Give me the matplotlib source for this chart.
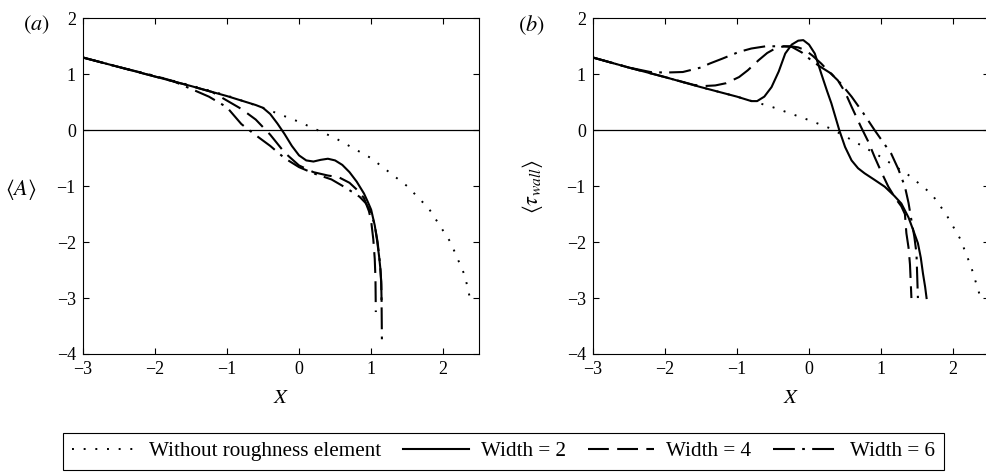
import matplotlib
matplotlib.use("Agg")
import matplotlib.pyplot as plt

plt.rcParams['font.family'] = ['Liberation Serif', 'DejaVu Serif']
plt.rcParams['mathtext.fontset'] = 'stix'

# panel (a): <A>
dot_a_x = [-3, -2.5, -2, -1.5, -1, -0.5, 0, 0.5, 1.0, 1.5, 1.8, 2.1, 2.3, 2.37]
dot_a_y = [1.3, 1.13, 0.97, 0.80, 0.62, 0.40, 0.15, -0.14, -0.5, -1.0, -1.4, -2.0, -2.6, -3.0]

w2_a_x = [-3, -2.5, -2, -1.5, -1, -0.6, -0.5, -0.4, -0.3, -0.2, -0.1, 0.0, 0.1, 0.2, 0.3,
          0.4, 0.5, 0.6, 0.7, 0.8, 0.9, 0.95, 1.0, 1.05, 1.08, 1.11, 1.13, 1.14, 1.145]
w2_a_y = [1.3, 1.13, 0.96, 0.79, 0.61, 0.45, 0.40, 0.29, 0.12, -0.07, -0.28, -0.45, -0.54, -0.56, -0.53,
          -0.51, -0.54, -0.62, -0.75, -0.92, -1.13, -1.27, -1.42, -1.7, -1.95, -2.25, -2.5, -2.75, -3.05]

w4_a_x = [-3, -2.5, -2, -1.5, -1.2, -1.0, -0.8, -0.6, -0.4, -0.2, 0.0, 0.2, 0.4, 0.55,
          0.7, 0.8, 0.9, 0.97, 1.0, 1.03, 1.05, 1.06, 1.065]
w4_a_y = [1.3, 1.13, 0.96, 0.79, 0.68, 0.53, 0.38, 0.19, -0.08, -0.40, -0.63, -0.75, -0.81, -0.84,
          -0.94, -1.06, -1.21, -1.45, -1.62, -1.95, -2.3, -2.65, -3.25]

w6_a_x = [-3, -2.5, -2.0, -1.75, -1.5, -1.25, -1.0, -0.8, -0.6, -0.4, -0.2, 0.0, 0.2, 0.45,
          0.65, 0.84, 0.93, 1.0, 1.05, 1.09, 1.12, 1.14, 1.145, 1.15]
w6_a_y = [1.3, 1.13, 0.97, 0.88, 0.74, 0.60, 0.41, 0.11, -0.09, -0.28, -0.50, -0.66, -0.77, -0.88,
          -1.03, -1.19, -1.31, -1.48, -1.7, -2.0, -2.35, -2.7, -3.1, -3.85]

# panel (b): <tau_wall>
dot_b_x = [-3, -2.5, -2, -1.5, -1, -0.5, 0, 0.3, 0.6, 1.0, 1.4, 1.7, 1.9, 2.1, 2.25, 2.38]
dot_b_y = [1.3, 1.12, 0.95, 0.77, 0.60, 0.41, 0.18, 0.03, -0.18, -0.48, -0.82, -1.14, -1.5, -1.95, -2.45, -3.0]

w2_b_x = [-3, -2.5, -2, -1.5, -1.0, -0.8, -0.72, -0.62, -0.52, -0.42, -0.33, -0.24, -0.15, -0.08,
          0.0, 0.08, 0.17, 0.25, 0.31, 0.42, 0.5, 0.59, 0.68, 0.77, 0.9, 1.05, 1.18, 1.28, 1.38,
          1.46, 1.51, 1.55, 1.58, 1.61, 1.63]
w2_b_y = [1.3, 1.12, 0.95, 0.77, 0.60, 0.52, 0.52, 0.6, 0.77, 1.05, 1.37, 1.53, 1.60, 1.61,
          1.53, 1.37, 1.01, 0.70, 0.48, 0.0, -0.30, -0.54, -0.68, -0.77, -0.88, -1.01, -1.17, -1.31, -1.56,
          -1.84, -2.02, -2.28, -2.56, -2.8, -3.0]

w4_b_x = [-3, -2.5, -2, -1.6, -1.45, -1.3, -1.15, -0.97, -0.85, -0.7, -0.58, -0.47, -0.35, -0.25,
          -0.15, -0.05, 0.05, 0.17, 0.28, 0.4, 0.5, 0.59, 0.72, 0.82, 0.91, 1.0, 1.1, 1.2, 1.28,
          1.33, 1.35, 1.38, 1.4, 1.42]
w4_b_y = [1.3, 1.12, 0.95, 0.81, 0.79, 0.8, 0.84, 0.95, 1.07, 1.25, 1.38, 1.46, 1.50, 1.50,
          1.48, 1.43, 1.33, 1.19, 1.04, 0.89, 0.68, 0.42, 0.06, -0.2, -0.48, -0.74, -1.01, -1.22, -1.36,
          -1.5, -1.84, -2.1, -2.4, -3.0]

w6_b_x = [-3, -2.5, -2.2, -2.0, -1.75, -1.5, -1.38, -1.2, -0.97, -0.8, -0.6, -0.4, -0.24, -0.1,
          0.03, 0.15, 0.31, 0.45, 0.59, 0.75, 0.91, 1.03, 1.14, 1.24, 1.33, 1.38, 1.42, 1.46, 1.49,
          1.5, 1.51]
w6_b_y = [1.3, 1.12, 1.04, 1.03, 1.04, 1.12, 1.19, 1.28, 1.40, 1.46, 1.50, 1.50, 1.49, 1.39,
          1.25, 1.14, 1.01, 0.82, 0.60, 0.31, 0.0, -0.22, -0.42, -0.7, -1.01, -1.3, -1.61, -1.9, -2.2,
          -2.6, -3.0]

labels = ['Without roughness element', 'Width = 2', 'Width = 4', 'Width = 6']
x_ticks = [-3, -2, -1, 0, 1, 2]
y_ticks = [-4, -3, -2, -1, 0, 1, 2]

W, H = 987, 472
fig = plt.figure(figsize=(W / 100, H / 100), dpi=100)
ax_a = fig.add_axes([82.7 / W, 118 / H, 396.6 / W, 335.7 / H])
ax_b = fig.add_axes([592.7 / W, 118 / H, 396.6 / W, 335.7 / H])

dotted = (0, (1, 5))
dashed = (0, (10, 4))
dashdot = (0, (10.5, 3.5, 1.3, 3.5))


def draw(ax, dx, dy, x2, y2, x4, y4, x6, y6):
    ax.axhline(0, color='black', lw=0.9, zorder=1)
    ax.plot(dx, dy, color='black', lw=1.4, ls=dotted, label=labels[0])
    ax.plot(x2, y2, color='black', lw=1.5, ls='-', label=labels[1])
    ax.plot(x4, y4, color='black', lw=1.5, ls=dashed, label=labels[2])
    ax.plot(x6, y6, color='black', lw=1.5, ls=dashdot, label=labels[3])
    ax.set_xlim(-3, 2.5)
    ax.set_ylim(-4, 2)
    ax.set_xticks(x_ticks)
    ax.set_yticks(y_ticks)
    ax.tick_params(direction='in', top=True, right=True, length=4, width=0.8,
                   labelsize=13, pad=5)
    for s in ax.spines.values():
        s.set_linewidth(0.8)
    ax.set_xlabel('$X$', fontsize=15, labelpad=8)


draw(ax_a, dot_a_x, dot_a_y, w2_a_x, w2_a_y, w4_a_x, w4_a_y, w6_a_x, w6_a_y)
draw(ax_b, dot_b_x, dot_b_y, w2_b_x, w2_b_y, w4_b_x, w4_b_y, w6_b_x, w6_b_y)

fig.text(36 / W, 1 - 25 / H, '$(a)$', fontsize=16, ha='center', va='center')
fig.text(531 / W, 1 - 25 / H, '$(b)$', fontsize=16, ha='center', va='center')
fig.text(21 / W, 1 - 190 / H, r'$\langle A\rangle$', fontsize=16, ha='center', va='center')
fig.text(533 / W, 1 - 186 / H, r'$\langle \tau_{wall}\rangle$', fontsize=16,
         ha='center', va='center', rotation=90)

handles, labs = ax_a.get_legend_handles_labels()
leg = fig.legend(handles, labs, loc='upper center', bbox_to_anchor=(503.5 / W, 1 - 433 / H),
                 ncol=4, frameon=True, fancybox=False, edgecolor='black', framealpha=1,
                 fontsize=15.2, handlelength=3.1, handletextpad=0.57, columnspacing=1.05,
                 borderpad=0.4, borderaxespad=0)
leg.get_frame().set_linewidth(0.8)

fig.savefig('out.png', dpi=100)
